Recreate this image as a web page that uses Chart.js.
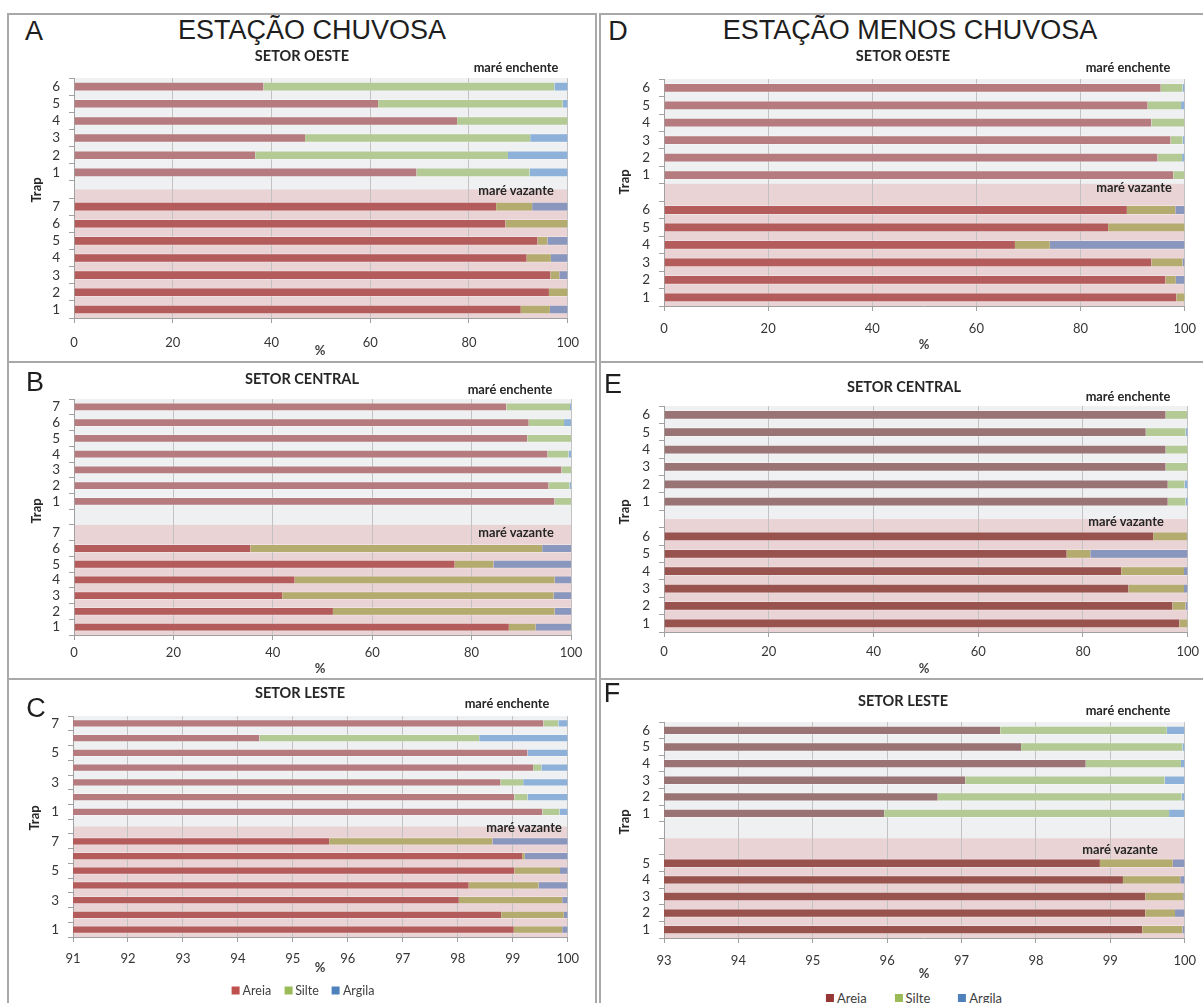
<!DOCTYPE html>
<html lang="pt">
<head>
<meta charset="utf-8">
<title>Granulometria dos sedimentos por setor</title>
<script src="https://cdn.jsdelivr.net/npm/chart.js@4.4.1/dist/chart.umd.min.js"></script>
<style>
  html, body { margin: 0; padding: 0; background: #fff; }
  #page { position: relative; width: 1203px; height: 1003px; overflow: hidden;
          font-family: Lato, "Open Sans", sans-serif; color: #404040; }
  .line { position: absolute; background: #a9a9a9; }
  canvas { position: absolute; }
  .txt { position: absolute; white-space: nowrap; transform: translate(-50%, -50%); line-height: 1; }
  .big { font-family: "Liberation Sans", Arial, sans-serif; font-size: 27px; color: #1e1e1e; }
  .setor { font-weight: bold; font-size: 14.5px; color: #262626; }
  .mare { font-weight: bold; font-size: 12.8px; color: #262626; }
  .trap { font-weight: bold; font-size: 13px; color: #262626; transform: translate(-50%, -50%) rotate(-90deg); }
  .pct { font-weight: bold; font-size: 13px; color: #404040; }
  .legend { position: absolute; display: flex; align-items: center; transform: translate(-50%, -50%);
            font-size: 12.5px; color: #404040; white-space: nowrap; }
  .legend span.sq { display: inline-block; width: 8px; height: 8px; margin-right: 3px; }
</style>
</head>
<body>
<div id="page"></div>
<script>
// granulometric fractions (%) per trap; '' rows are the spacer between tides
const labelsA = ['6','5','4','3','2','1','','7','6','5','4','3','2','1'];
const areiaA  = [38.4, 61.6, 77.6, 46.8, 36.7, 69.4, null, 85.5, 87.4, 93.9, 91.7, 96.5, 96.2, 90.5];
const silteA  = [58.9, 37.4, 22.4, 45.6, 51.2, 22.9, null, 7.3, 12.6, 2.0, 4.9, 1.8, 3.8, 5.9];
const argilaA = [2.7, 1.0, 0, 7.6, 12.1, 7.7, null, 7.2, 0, 4.1, 3.4, 1.7, 0, 3.6];

const labelsB = ['7','6','5','4','3','2','1','','7','6','5','4','3','2','1'];
const areiaB  = [87.0, 91.5, 91.2, 95.3, 98.1, 95.5, 96.7, null, null, 35.5, 76.6, 44.4, 41.9, 52.1, 87.5];
const silteB  = [12.8, 7.1, 8.8, 4.2, 1.9, 4.2, 3.3, null, null, 58.7, 7.8, 52.3, 54.6, 44.6, 5.4];
const argilaB = [0.2, 1.4, 0, 0.5, 0, 0.3, 0, null, null, 5.8, 15.6, 3.3, 3.5, 3.3, 7.1];

const labelsC = ['7','6','5','4','3','2','1','','7','6','5','4','3','2','1'];
const areiaC  = [99.56, 94.39, 99.27, 99.37, 98.78, 99.03, 99.54, null, 95.66, 99.17, 99.03, 98.20, 98.02, 98.79, 99.02];
const silteC  = [0.27, 4.00, 0, 0.15, 0.41, 0.24, 0.31, null, 2.97, 0.05, 0.83, 1.27, 1.88, 1.14, 0.88];
const argilaC = [0.17, 1.61, 0.73, 0.48, 0.81, 0.73, 0.15, null, 1.37, 0.78, 0.14, 0.53, 0.10, 0.07, 0.10];

const labelsD = ['6','5','4','3','2','1','','6','5','4','3','2','1'];
const areiaD  = [95.4, 92.9, 93.6, 97.3, 94.8, 97.8, null, 88.9, 85.3, 67.4, 93.6, 96.3, 98.4];
const silteD  = [4.2, 6.4, 6.4, 2.3, 4.7, 2.2, null, 9.3, 14.7, 6.7, 6.0, 2.0, 1.6];
const argilaD = [0.4, 0.7, 0, 0.4, 0.5, 0, null, 1.8, 0, 25.9, 0.4, 1.7, 0];

const labelsE = ['6','5','4','3','2','1','','6','5','4','3','2','1'];
const areiaE  = [95.8, 92.0, 95.8, 95.8, 96.2, 96.2, null, 93.4, 76.9, 87.3, 88.7, 97.1, 98.4];
const silteE  = [4.1, 7.6, 4.2, 4.2, 3.2, 3.4, null, 6.5, 4.5, 12.0, 10.6, 2.5, 1.6];
const argilaE = [0.1, 0.4, 0, 0, 0.6, 0.4, null, 0.1, 18.6, 0.7, 0.7, 0.4, 0];

const labelsF = ['6','5','4','3','2','1','','','5','4','3','2','1'];
const areiaF  = [97.52, 97.80, 98.67, 97.05, 96.68, 95.96, null, null, 98.86, 99.17, 99.47, 99.47, 99.43];
const silteF  = [2.24, 2.17, 1.28, 2.68, 3.28, 3.83, null, null, 0.98, 0.77, 0.51, 0.40, 0.54];
const argilaF = [0.24, 0.03, 0.05, 0.27, 0.04, 0.21, null, null, 0.16, 0.06, 0.02, 0.13, 0.03];

const seriesNames = ['Areia', 'Silte', 'Argila'];

// colours: flood tide rows (grey band) and ebb tide rows (pink band)
const enchColors = ['#b57b7e', '#b4ca95', '#8db1d8'];
const vazColors  = ['#b45c5b', '#b4ac6f', '#8996bd'];
const enchColorsDark = ['#9a7375', '#b4ca95', '#8db1d8'];
const vazColorsDark  = ['#98534f', '#b4ac6f', '#8996bd'];

const page = document.getElementById('page');

function addText(cls, text, x, y) {
  const d = document.createElement('div');
  d.className = 'txt ' + cls;
  d.textContent = text;
  d.style.left = x + 'px';
  d.style.top = y + 'px';
  page.appendChild(d);
}
function addLine(x, y, w, h) {
  const d = document.createElement('div');
  d.className = 'line';
  Object.assign(d.style, { left: x + 'px', top: y + 'px', width: w + 'px', height: h + 'px' });
  page.appendChild(d);
}
function addLegend(x, y, colors, gap, size) {
  const d = document.createElement('div');
  d.className = 'legend';
  d.style.left = x + 'px';
  d.style.top = y + 'px';
  d.style.fontSize = size + 'px';
  seriesNames.forEach((n, i) => {
    const sq = document.createElement('span');
    sq.className = 'sq';
    sq.style.background = colors[i];
    const t = document.createElement('span');
    t.textContent = n;
    if (i < 2) t.style.marginRight = gap + 'px';
    d.appendChild(sq);
    d.appendChild(t);
  });
  page.appendChild(d);
}

// panel frames
addLine(7, 13, 590, 2); addLine(7, 361, 590, 2); addLine(7, 678, 590, 2);
addLine(7, 13, 2, 990); addLine(595, 13, 2, 990);
addLine(599, 13, 604, 2); addLine(599, 361, 604, 2); addLine(599, 678, 604, 2);
addLine(599, 13, 2, 990);

// shaded backgrounds: grey plot area, pink band below the flood tide rows
const bandPlugin = {
  id: 'bands',
  beforeDraw(chart, args, opts) {
    const { ctx, chartArea: a } = chart;
    const n = chart.data.labels.length;
    const yTop = a.top + opts.pinkFrom * (a.bottom - a.top) / n;
    ctx.save();
    ctx.fillStyle = '#eff0f2';
    ctx.fillRect(a.left, a.top, a.right - a.left, a.bottom - a.top);
    ctx.fillStyle = '#ead3d4';
    ctx.fillRect(a.left, yTop, a.right - a.left, a.bottom - yTop);
    ctx.restore();
  }
};

const Y_W = 50, X_H = 34, PAD_T = 4, PAD_R = 18;

function makePanel(p) {
  const [L, T, R, B] = p.plot;
  const cv = document.createElement('canvas');
  cv.width = R - L + Y_W + PAD_R;
  cv.height = B - T + PAD_T + X_H;
  cv.style.left = (L - Y_W) + 'px';
  cv.style.top = (T - PAD_T) + 'px';
  page.appendChild(cv);

  const ench = p.dark ? enchColorsDark : enchColors;
  const vaz = p.dark ? vazColorsDark : vazColors;
  const colorFor = k => c => (c.dataIndex + 0.5 > p.pinkFrom ? vaz[k] : ench[k]);

  new Chart(cv, {
    type: 'bar',
    data: {
      labels: p.labels,
      datasets: [p.areia, p.silte, p.argila].map((d, k) => ({
        label: seriesNames[k],
        data: d,
        backgroundColor: colorFor(k),
        borderColor: 'rgba(255,255,255,0.3)',
        borderWidth: { top: 1, bottom: 1, left: 0, right: 0 },
        borderSkipped: false,
        barPercentage: 0.56,
        categoryPercentage: 1
      }))
    },
    options: {
      indexAxis: 'y',
      responsive: false,
      animation: false,
      events: [],
      layout: { autoPadding: false, padding: { left: 0, top: PAD_T, right: PAD_R, bottom: 0 } },
      plugins: { legend: { display: false }, tooltip: { enabled: false }, bands: { pinkFrom: p.pinkFrom } },
      scales: {
        x: {
          stacked: true, min: p.min, max: p.max,
          afterFit: s => { s.height = X_H; },
          ticks: { stepSize: p.step, padding: p.tickPad, color: '#363636', font: { family: 'Lato', size: 13 } },
          grid: { color: '#c2c2c2', tickLength: 5, tickColor: '#a0a0a0' },
          border: { color: '#a0a0a0' }
        },
        y: {
          stacked: true,
          afterFit: s => { s.width = Y_W; },
          ticks: {
            autoSkip: false, padding: 9, color: '#363636', font: { family: 'Lato', size: 13.5 },
            callback: function (v, i) { return i % p.labelStep === 0 ? this.getLabelForValue(v) : ''; }
          },
          grid: { offset: true, drawOnChartArea: false, tickLength: 5, color: '#a0a0a0' },
          border: { color: '#a0a0a0' }
        }
      }
    },
    plugins: [bandPlugin]
  });
}

const panels = [
  { labels: labelsA, areia: areiaA, silte: silteA, argila: argilaA, min: 0, max: 100, step: 20,
    plot: [74, 65, 573, 318], pinkFrom: 6.5, dark: false, labelStep: 1, tickPad: 12 },
  { labels: labelsB, areia: areiaB, silte: silteB, argila: argilaB, min: 0, max: 100, step: 20,
    plot: [74, 386, 571, 635], pinkFrom: 8, dark: false, labelStep: 1, tickPad: 5 },
  { labels: labelsC, areia: areiaC, silte: silteC, argila: argilaC, min: 91, max: 100, step: 1,
    plot: [73, 703, 570, 937], pinkFrom: 7.5, dark: false, labelStep: 2, tickPad: 9 },
  { labels: labelsD, areia: areiaD, silte: silteD, argila: argilaD, min: 0, max: 100, step: 20,
    plot: [664, 66, 1188, 306], pinkFrom: 6, dark: false, labelStep: 1, tickPad: 10 },
  { labels: labelsE, areia: areiaE, silte: silteE, argila: argilaE, min: 0, max: 100, step: 20,
    plot: [664, 393, 1188, 632], pinkFrom: 6.5, dark: true, labelStep: 1, tickPad: 7 },
  { labels: labelsF, areia: areiaF, silte: silteF, argila: argilaF, min: 93, max: 100, step: 1,
    plot: [664, 709, 1188, 938], pinkFrom: 7, dark: true, labelStep: 1, tickPad: 10 }
];
panels.forEach(makePanel);

// headings and annotations
addText('big', 'A', 34, 31);
addText('big', 'ESTAÇÃO CHUVOSA', 312, 30);
addText('big', 'D', 618, 31);
addText('big', 'ESTAÇÃO MENOS CHUVOSA', 910, 30);
addText('big', 'B', 35, 382);
addText('big', 'E', 613, 384);
addText('big', 'C', 36, 708);
addText('big', 'F', 612, 693);

addText('setor', 'SETOR OESTE', 302, 56);
addText('setor', 'SETOR CENTRAL', 302, 379);
addText('setor', 'SETOR LESTE', 300, 693);
addText('setor', 'SETOR OESTE', 903, 56);
addText('setor', 'SETOR CENTRAL', 904, 387);
addText('setor', 'SETOR LESTE', 903, 701);

addText('mare', 'maré enchente', 516, 67);
addText('mare', 'maré vazante', 516, 190);
addText('mare', 'maré enchente', 510, 389);
addText('mare', 'maré vazante', 516, 532);
addText('mare', 'maré enchente', 507, 703);
addText('mare', 'maré vazante', 524, 827);
addText('mare', 'maré enchente', 1128, 67);
addText('mare', 'maré vazante', 1134, 187);
addText('mare', 'maré enchente', 1128, 396);
addText('mare', 'maré vazante', 1126, 521);
addText('mare', 'maré enchente', 1128, 710);
addText('mare', 'maré vazante', 1120, 849);

addText('trap', 'Trap', 36, 190);
addText('trap', 'Trap', 36, 511);
addText('trap', 'Trap', 34, 818);
addText('trap', 'Trap', 624, 182);
addText('trap', 'Trap', 624, 512);
addText('trap', 'Trap', 624, 822);

addText('pct', '%', 320, 350);
addText('pct', '%', 320, 668);
addText('pct', '%', 320, 967);
addText('pct', '%', 924, 344);
addText('pct', '%', 924, 668);
addText('pct', '%', 924, 973);

addLegend(303, 990, ['#c0504d', '#9bbb59', '#4f81bd'], 13, 12.5);
addLegend(914, 998, ['#953735', '#9bbb59', '#4f81bd'], 28, 13);
</script>
</body>
</html>
